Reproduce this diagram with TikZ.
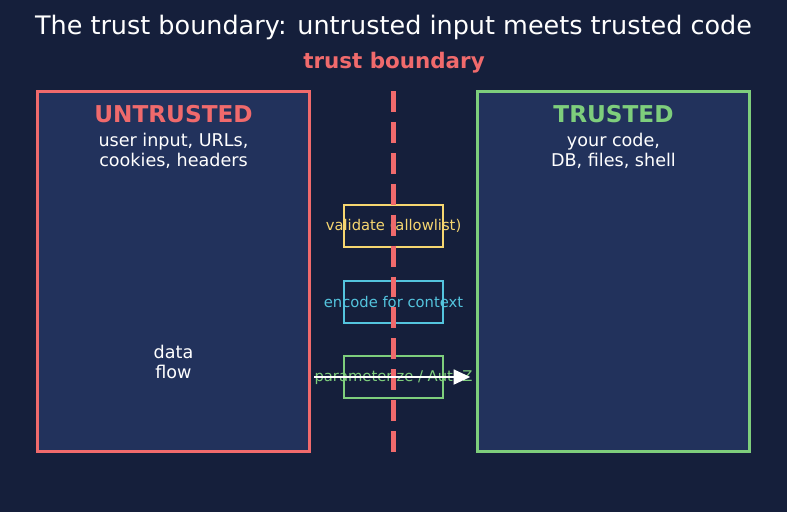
\documentclass[tikz,border=0pt]{standalone}
\usepackage{fontspec}
\setmainfont{DejaVu Sans}
\usetikzlibrary{arrows.meta}
\definecolor{bgnavy}{RGB}{21,31,59}
\definecolor{boxnavy}{RGB}{34,50,92}
\definecolor{untrustred}{RGB}{240,106,108}
\definecolor{trustgreen}{RGB}{126,206,124}
\definecolor{checkyellow}{RGB}{246,214,112}
\definecolor{encodecyan}{RGB}{84,196,222}
\tikzset{
  zone/.style={draw, line width=1.7pt, fill=boxnavy, minimum width=5.46cm, minimum height=7.22cm, inner sep=0pt},
  guard/.style={draw, line width=1.4pt, fill=bgnavy, minimum width=1.98cm, minimum height=0.84cm, inner sep=0pt},
  guardtext/.style={font=\fontsize{8.4}{10}\selectfont},
  heading/.style={font=\fontsize{13.2}{15}\selectfont\bfseries},
  sub/.style={text=white, align=center, font=\fontsize{10}{11.4}\selectfont}
}
\begin{document}
\begin{tikzpicture}[x=0.02cm, y=-0.02cm]
\useasboundingbox[fill=bgnavy] (0,0) rectangle (787,512);
\node[text=white, font=\fontsize{14.5}{17}\selectfont] (title) at (393.5,27) {The trust boundary: untrusted input meets trusted code};
\node[text=untrustred, font=\fontsize{12.2}{14}\selectfont\bfseries] (blabel) at (394,63) {trust boundary};
% the two zones
\node[zone, draw=untrustred] (untrusted) at (173.5,271.5) {};
\node[zone, draw=trustgreen] (trusted) at (613.5,271.5) {};
\node[heading, text=untrustred] (uhead) at (173.5,114) {UNTRUSTED};
\node[sub] (usub) at (173.5,151) {user input, URLs,\\cookies, headers};
\node[heading, text=trustgreen] (thead) at (613.5,114) {TRUSTED};
\node[sub] (tsub) at (613.5,151) {your code,\\DB, files, shell};
\node[sub] (flow) at (173.5,362) {data\\flow};
% the checks on the boundary
\node[guard, draw=checkyellow] (validate) at (393.5,226) {};
\node[guard, draw=encodecyan] (encode) at (393.5,302) {};
\node[guard, draw=trustgreen] (param) at (393.5,377) {};
\node[guardtext, text=checkyellow] at (validate) {validate (allowlist)};
\node[guardtext, text=encodecyan] at (encode) {encode for context};
\node[guardtext, text=trustgreen] at (param) {parameterize / AuthZ};
\draw[untrustred, line width=3.1pt, dash pattern=on 11.9pt off 5.7pt] (393.5,91) -- (393.5,452);
\draw[white, line width=1.2pt, -{Triangle[length=9.5pt, width=8.5pt]}, shorten <=1.7pt, shorten >=3pt] (untrusted.east |- param) -- (trusted.west |- param);
\end{tikzpicture}
\end{document}
